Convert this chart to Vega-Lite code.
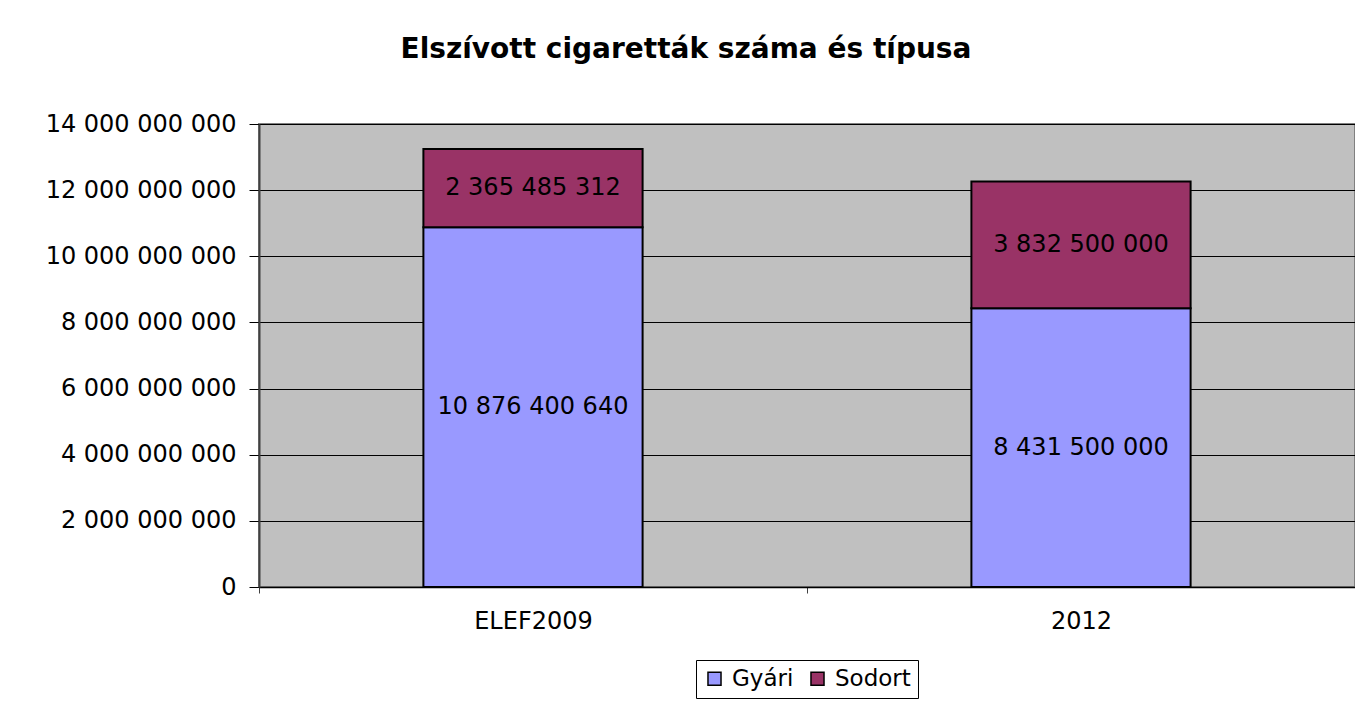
{
  "$schema": "https://vega.github.io/schema/vega-lite/v6.json",
  "width": 1096,
  "height": 463,
  "autosize": "none",
  "padding": {"left": 259, "top": 124, "right": 0, "bottom": 118},
  "background": "white",
  "title": {
    "text": "Elszívott cigaretták száma és típusa",
    "font": "DejaVu Sans",
    "fontSize": 28,
    "fontWeight": "bold",
    "color": "black",
    "anchor": "middle",
    "frame": "group",
    "dx": -121,
    "offset": 48
  },
  "data": {
    "values": [
      {"cat": "ELEF2009", "type": "Gyári", "value": 10876400640},
      {"cat": "ELEF2009", "type": "Sodort", "value": 2365485312},
      {"cat": "2012", "type": "Gyári", "value": 8431500000},
      {"cat": "2012", "type": "Sodort", "value": 3832500000}
    ]
  },
  "transform": [
    {"stack": "value", "groupby": ["cat"], "sort": [{"field": "type", "order": "ascending"}], "as": ["y0", "y1"]},
    {"calculate": "(datum.y0 + datum.y1) / 2", "as": "mid"}
  ],
  "encoding": {
    "x": {
      "field": "cat",
      "type": "nominal",
      "sort": ["ELEF2009", "2012"],
      "scale": {"paddingInner": 0, "paddingOuter": 0},
      "axis": {
        "title": null,
        "labelAngle": 0,
        "tickBand": "extent",
        "tickSize": 6,
        "tickColor": "#404040",
        "domainColor": "black",
        "domainWidth": 1.5,
        "labelPadding": 16,
        "labelFont": "DejaVu Sans",
        "labelFontSize": 24,
        "labelColor": "black",
        "grid": false
      }
    }
  },
  "layer": [
    {
      "mark": {"type": "bar", "width": {"band": 0.4}, "stroke": "black", "strokeWidth": 2},
      "encoding": {
        "y": {
          "field": "y0",
          "type": "quantitative",
          "scale": {"domain": [0, 14000000000], "nice": false},
          "axis": {
            "title": null,
            "values": [0, 2000000000, 4000000000, 6000000000, 8000000000, 10000000000, 12000000000, 14000000000],
            "format": ",d",
            "labelLimit": 400,
            "tickSize": 10,
            "tickColor": "black",
            "domainColor": "#404040",
            "domainWidth": 2,
            "labelPadding": 13,
            "labelFont": "DejaVu Sans",
            "labelFontSize": 24,
            "labelColor": "black",
            "grid": true,
            "gridColor": "black",
            "gridWidth": 1,
            "gridOpacity": 1
          }
        },
        "y2": {"field": "y1"},
        "color": {
          "field": "type",
          "type": "nominal",
          "scale": {"domain": ["Gyári", "Sodort"], "range": ["#9999FF", "#993366"]},
          "legend": {
            "title": null,
            "orient": "bottom",
            "direction": "horizontal",
            "offset": 27,
            "strokeColor": "black",
            "fillColor": "white",
            "padding": 7,
            "symbolType": "square",
            "symbolSize": 170,
            "symbolStrokeColor": "black",
            "symbolStrokeWidth": 1.5,
            "symbolOpacity": 1,
            "labelFont": "DejaVu Sans",
            "labelFontSize": 23,
            "labelColor": "black",
            "labelOffset": 6,
            "columnPadding": 12
          }
        }
      }
    },
    {
      "mark": {"type": "text", "font": "DejaVu Sans", "fontSize": 24, "color": "black", "baseline": "middle", "align": "center"},
      "encoding": {
        "y": {"field": "mid", "type": "quantitative"},
        "text": {"field": "value", "type": "quantitative", "format": ",d"}
      }
    }
  ],
  "config": {
    "locale": {"number": {"decimal": ",", "thousands": " ", "grouping": [3], "currency": ["", ""]}},
    "view": {"fill": "#C0C0C0", "stroke": "#808080", "strokeWidth": 2},
    "legend": {"layout": {"bottom": {"anchor": "middle"}}}
  }
}
